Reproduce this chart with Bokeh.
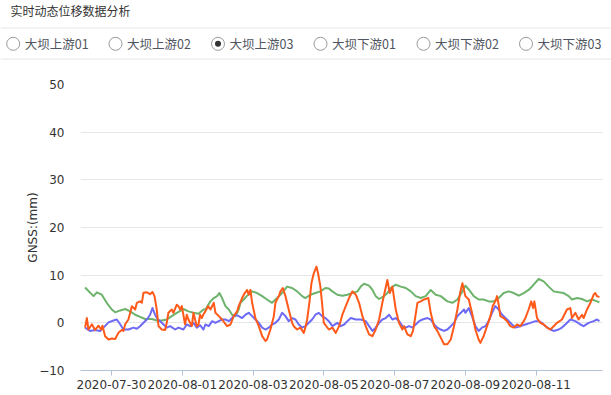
import pandas as pd
from bokeh.plotting import figure
from bokeh.models import Range1d, FixedTicker, DatetimeTickFormatter, ColumnDataSource
from bokeh.core.properties import value
from bokeh.embed import file_html
from bokeh.resources import INLINE

# ---------------- data ----------------
TITLE = "实时动态位移数据分析"
RADIO_LABELS = ["大坝上游01", "大坝上游02", "大坝上游03", "大坝下游01", "大坝下游02", "大坝下游03"]
SELECTED = 2
Y_LABEL = "GNSS:(mm)"
Y_TICKS = [-10, 0, 10, 20, 30, 40, 50]
X_TICK_LABELS = ["2020-07-30", "2020-08-01", "2020-08-03", "2020-08-05",
                 "2020-08-07", "2020-08-09", "2020-08-11"]
BASE_TIME = "2020-07-30 00:00"

# hours after BASE_TIME and displacement (mm)
GREEN_H = [-17.9, -12.2, -9.9, -6.6, -3.2, 0.2, 2.5, 5.9, 9.3, 12.7, 16.1, 19.4, 22.8, 27.4, 30.7, 34.1, 37.5, 40.9, 44.3, 48.8, 52.2, 55.6, 59.0, 62.4,
           63.7, 67.1, 69.4, 71.6, 73.2, 75.0, 77.3, 79.6, 81.8, 84.1, 86.3, 87.5, 89.7, 92.0, 95.4, 98.8, 102.2, 105.5, 108.9, 112.3, 115.7, 119.1, 122.5, 125.9, 129.3, 131.5, 134.9, 138.3, 141.7, 145.1, 147.4,
           149.8, 153.2, 156.6, 160.0, 163.4, 166.8, 169.1, 171.3, 174.7, 177.0, 179.2, 181.5, 184.9, 187.1, 189.4, 192.8, 196.2, 199.6, 203.0, 206.3, 209.7, 213.1, 216.5, 219.9, 223.3, 227.8, 231.2, 234.6, 238.0,
           240.0, 242.3, 245.7, 249.0, 252.4, 255.8, 259.2, 262.6, 266.0, 269.4, 272.8, 276.2, 279.6, 282.9, 286.3, 289.7, 293.1, 296.5, 299.9, 303.3, 306.7, 310.1, 312.3, 315.7, 319.1, 322.5, 325.9, 329.3, 330.9]
GREEN_V = [7.4, 5.6, 6.4, 5.9, 4.2, 2.8, 2.2, 2.6, 2.9, 2.4, 1.7, 1.25, 0.8, 0.8, 0.5, 0.5, 0.7, 1.4, 2.1, 2.9, 2.4, 2.1, 1.9, 2.8,
           2.8, 4.5, 5.2, 5.6, 6.25, 5.2, 3.5, 2.8, 1.7, 1.4, 2.8, 4.2, 4.9, 5.7, 6.6, 6.25, 5.6, 4.9, 4.2, 5.2, 6.25, 7.6, 7.3, 6.6, 5.6, 5.2, 5.9, 6.25, 6.6, 7.3, 7.2,
           6.6, 5.9, 5.7, 5.9, 6.25, 6.6, 7.6, 8.2, 7.8, 6.9, 5.6, 5.0, 5.6, 6.25, 7.3, 8.0, 7.6, 7.3, 6.6, 5.6, 5.2, 5.6, 6.9, 5.9, 5.6, 4.5, 4.2, 4.9, 6.6,
           7.8, 7.0, 5.6, 4.9, 4.9, 4.5, 4.5, 5.2, 6.25, 6.6, 6.25, 5.7, 6.25, 6.9, 8.0, 9.2, 8.7, 7.6, 6.6, 6.4, 6.25, 5.6, 4.9, 5.2, 5.0, 4.5, 4.9, 4.5, 4.3]

BLUE_H = [-17.9, -14.5, -11.1, -7.7, -5.4, -2.0, 1.4, 3.6, 5.9, 8.1, 11.5, 14.9, 17.2, 19.4, 21.7, 24.0, 26.2, 27.8, 29.6, 31.4, 33.0, 35.3, 37.5, 39.8, 43.2, 45.4, 48.8, 51.1, 53.3, 55.6, 57.9, 60.1, 62.4,
          63.7, 66.0, 68.3, 70.5, 72.8, 75.0, 77.3, 79.6, 81.8, 84.1, 86.3, 88.6, 90.9, 93.1, 95.4, 97.6, 99.9, 102.2, 104.4, 106.7, 108.9, 111.2, 113.5, 115.7, 118.0, 120.2, 122.5, 124.8, 127.0, 129.3, 131.5, 133.8, 136.1, 138.3, 140.6, 142.8, 145.1, 147.4,
          149.8, 153.2, 155.5, 157.8, 160.0, 162.3, 165.7, 169.1, 172.4, 174.7, 177.0, 179.2, 181.5, 183.7, 186.0, 188.3, 190.5, 192.8, 195.0, 197.3, 199.6, 201.8, 204.1, 206.3, 208.6, 210.9, 214.3, 216.5, 218.8, 221.0, 223.3, 225.5, 227.8, 230.1, 232.3, 234.6, 236.9, 239.1,
          240.0, 242.3, 244.5, 246.8, 249.0, 251.3, 253.6, 255.8, 258.1, 260.3, 262.6, 264.9, 268.3, 271.6, 273.9, 277.3, 280.7, 284.1, 287.5, 289.7, 292.0, 294.2, 297.6, 299.9, 303.3, 305.5, 307.8, 311.2, 314.6, 318.0, 320.2, 323.6, 327.0, 329.3, 330.9]
BLUE_V = [-1.0, -1.7, -1.5, -1.7, -1.0, 0.1, 0.5, 0.7, -0.3, -1.4, -1.4, -1.0, -1.25, -0.7, 0.0, 0.7, 1.7, 3.1, 1.7, 0.7, 0.35, -0.35, -1.0, -0.7, -1.4, -1.0, -1.4, -0.35, -0.7, 0.0, -1.0, -0.5, -1.4,
          -0.35, -0.7, 0.35, 0.0, 0.35, 0.7, 0.7, 0.35, 1.0, 1.7, 1.4, 1.0, 1.7, 2.1, 1.4, 0.7, 0.0, -1.0, -1.4, -1.0, -0.35, 0.0, 0.7, 2.1, 1.4, 0.35, 1.0, 0.7, -0.35, -1.0, -0.7, 0.0, 0.7, 1.7, 2.1, 1.4, 1.0, 0.35,
          -0.7, 0.0, -0.7, -0.35, 0.35, 1.0, 0.7, 0.7, 0.35, -0.7, -1.7, -1.0, 0.0, 0.7, 1.0, 1.7, 0.7, 1.0, 0.35, -0.7, -1.0, -0.7, -1.0, -0.35, 0.35, 0.7, 1.0, 0.7, -0.35, -1.0, -1.4, -1.7, -1.4, -0.7, 0.0, 1.4, 2.1, 2.8,
          2.1, 3.1, 1.4, -0.7, -1.7, -1.0, -0.7, 0.35, 2.1, 3.5, 2.8, 1.7, 0.7, -0.35, -1.0, -0.7, -0.35, 0.0, 0.35, 0.35, 0.0, -0.7, -1.4, -1.7, -1.4, -1.0, -0.35, 0.7, 0.35, -0.35, -0.7, 0.0, 0.35, 0.7, 0.35]

ORANGE_H = [-17.9, -16.7, -15.6, -13.3, -11.1, -8.8, -7.0, -6.1, -4.3, -2.0, 0.2, 2.5, 4.7, 7.0, 8.1, 9.3, 11.5, 12.7, 13.8, 16.1, 17.2, 19.4, 20.6, 21.7, 24.0, 26.2, 27.8, 29.2, 30.7, 31.9, 34.1, 36.4, 37.5, 38.6, 40.9, 42.0, 44.3, 45.4, 46.6, 47.7, 49.9, 51.1, 52.2, 54.5, 55.6, 56.7, 57.9, 59.0, 60.1, 61.2, 62.4,
            63.7, 65.5, 67.1, 69.4, 70.5, 72.8, 75.0, 78.4, 80.7, 82.9, 85.2, 86.3, 88.6, 90.4, 92.0, 93.1, 94.2, 95.4, 97.6, 99.9, 102.2, 104.4, 105.5, 107.8, 110.1, 111.2, 113.5, 114.6, 116.2, 118.0, 120.2, 122.5, 123.6, 125.9, 128.1, 130.4, 131.5, 132.7, 134.2, 135.6, 137.2, 139.0, 140.1, 141.7, 142.8, 144.0, 147.4,
            149.8, 152.1, 154.4, 156.6, 158.9, 161.1, 163.4, 165.7, 167.9, 170.2, 172.4, 174.7, 177.0, 179.2, 181.5, 183.7, 185.6, 187.1, 188.7, 190.5, 192.8, 195.0, 197.3, 198.4, 200.7, 203.0, 204.5, 205.9, 207.5, 209.7, 212.0, 214.9, 216.5, 218.8, 221.0, 223.3, 225.5, 227.8, 230.1, 232.3, 234.6, 236.4, 238.0,
            240.0, 242.3, 244.5, 246.8, 249.0, 250.2, 252.4, 254.7, 257.0, 258.5, 260.3, 261.5, 262.6, 263.7, 266.0, 268.3, 270.5, 272.8, 275.0, 277.3, 279.6, 280.7, 282.9, 284.7, 285.9, 286.8, 288.6, 290.9, 293.1, 295.4, 297.6, 299.9, 302.2, 305.5, 308.9, 311.2, 312.3, 314.6, 316.8, 319.1, 320.2, 322.5, 324.8, 327.0, 328.1, 329.3, 330.9]
ORANGE_V = [-1.0, 1.0, -1.4, -0.3, -1.5, -0.6, -1.4, -0.6, -2.8, -3.5, -3.3, -3.4, -2.1, -1.5, -1.7, -0.3, 0.7, 2.1, 3.5, 2.8, 4.2, 4.5, 4.2, 6.3, 6.4, 6.0, 6.5, 5.6, 2.8, -0.7, -1.4, -1.5, 0.0, 2.1, 2.8, 2.1, 3.8, 3.5, 2.8, 3.5, -0.3, 1.7, 0.7, -0.7, 2.1, 0.7, -0.7, -0.35, 1.7, 1.0, 1.8,
            2.4, 3.5, 2.8, 4.2, 2.1, 1.4, 0.7, -0.7, -0.35, 1.4, 2.4, 3.5, 5.2, 6.25, 6.9, 5.9, 6.9, 4.2, 1.0, -0.7, -2.8, -3.8, -3.5, -1.4, 1.4, 4.2, 5.6, 6.6, 7.3, 5.6, 2.8, 0.0, -0.7, -1.4, -1.0, -2.1, -1.0, 0.7, 4.2, 8.3, 10.4, 11.8, 10.4, 7.6, 4.2, 0.0, -1.4,
            -1.0, -2.1, -0.7, 1.7, 3.5, 5.2, 6.6, 5.9, 4.2, 1.4, -0.7, -2.4, -2.8, -1.4, 0.7, 4.2, 6.9, 9.0, 6.25, 7.6, 2.8, 0.0, -1.4, -0.7, -2.4, -2.8, -1.7, 1.0, 4.2, 4.5, 4.9, 5.2, 2.1, -0.7, -1.7, -3.1, -4.5, -4.5, -3.5, -0.7, 2.8, 6.25, 8.3,
            5.6, 4.9, 2.1, -1.4, -3.5, -4.2, -2.8, -0.7, 1.4, 3.5, 4.5, 5.6, 3.8, 1.4, 1.0, 0.35, -0.7, -1.0, -0.35, -0.7, 0.35, 1.0, 2.8, 4.5, 3.1, 4.5, 1.0, 0.0, -0.35, -1.0, -1.4, -0.7, 0.0, 0.7, 2.8, 3.1, 1.0, 2.1, 0.7, 1.7, 1.0, 2.8, 4.2, 5.9, 6.25, 5.6, 5.4]

X_START_H = -21.0
X_END_H = 333.0

# ---------------- helpers ----------------
base = pd.Timestamp(BASE_TIME)


def to_time(hours):
    return base + pd.to_timedelta(pd.Series(hours, dtype=float), unit="h")


CJK = "Noto Sans CJK SC"
LAT = "DejaVu Sans"
W = 611

# ---------------- header (title + radio row), its own root ----------------
HDR_H = 60
hdr = figure(width=W, height=HDR_H, x_range=Range1d(0, W), y_range=Range1d(HDR_H, 0),
             x_axis_type=None, y_axis_type=None, toolbar_location=None,
             output_backend="svg", min_border=0, min_border_left=0, min_border_right=0,
             min_border_top=0, min_border_bottom=0)
hdr.grid.visible = False
hdr.outline_line_color = None

hdr.text(x=[10], y=[10], text=[TITLE], text_font=value(CJK), text_font_size="12px",
         text_color="#333333", text_baseline="middle", text_align="left")
hdr.segment(x0=[0, 0], y0=[27.5, 58.5], x1=[W, W], y1=[27.5, 58.5],
            line_color="#e6e6e6", line_width=1)

radio_x = [12.7, 115.0, 217.5, 320.0, 423.0, 525.5]
radio_y = [43.3] * len(RADIO_LABELS)
hdr.scatter(x=radio_x, y=radio_y, marker="circle", size=13, fill_color="white",
            line_color="#9a9a9a", line_width=1)
hdr.scatter(x=[radio_x[SELECTED]], y=[radio_y[SELECTED]], marker="circle", size=6,
            fill_color="#333333", line_color=None)
hdr.text(x=[rx + 11.5 for rx in radio_x], y=radio_y, text=RADIO_LABELS,
         text_font=value(CJK), text_font_size="12.5px", text_color="#4f5560",
         text_baseline="middle", text_align="left")

# ---------------- main chart, a second root ----------------
PLOT_H = 395 - HDR_H
p = figure(width=W, height=PLOT_H, x_axis_type="datetime",
           x_range=Range1d(base + pd.Timedelta(hours=X_START_H), base + pd.Timedelta(hours=X_END_H)),
           y_range=Range1d(-10, 50), toolbar_location=None, output_backend="svg",
           min_border_left=80, min_border_right=9, min_border_top=24, min_border_bottom=25)
p.outline_line_color = None
p.xgrid.visible = False
p.ygrid.grid_line_color = "#e6e6e6"
p.ygrid.grid_line_width = 1

xt = [pd.Timestamp(s) for s in X_TICK_LABELS]
p.xaxis.ticker = FixedTicker(ticks=[t.value / 1e6 for t in xt])
p.xaxis.formatter = DatetimeTickFormatter(days="%Y-%m-%d", months="%Y-%m-%d", hours="%Y-%m-%d",
                                          context=None)
p.xaxis.axis_line_color = "#b3c1da"
p.xaxis.major_tick_line_color = "#b3c1da"
p.xaxis.major_tick_out = 5
p.xaxis.major_tick_in = 0
p.xaxis.minor_tick_line_color = None
p.xaxis.major_label_standoff = 4
p.xaxis.major_label_text_font = LAT
p.xaxis.major_label_text_font_size = "12px"
p.xaxis.major_label_text_color = "#333333"

p.yaxis.ticker = FixedTicker(ticks=Y_TICKS)
p.yaxis.axis_line_color = None
p.yaxis.major_tick_line_color = None
p.yaxis.minor_tick_line_color = None
p.yaxis.major_tick_out = 0
p.yaxis.major_tick_in = 0
p.yaxis.major_label_standoff = 16
p.yaxis.major_label_text_font = LAT
p.yaxis.major_label_text_font_size = "12px"
p.yaxis.major_label_text_color = "#333333"
p.yaxis.axis_label = Y_LABEL
p.yaxis.axis_label_text_font = LAT
p.yaxis.axis_label_text_font_size = "12px"
p.yaxis.axis_label_text_font_style = "normal"
p.yaxis.axis_label_text_color = "#333333"
p.yaxis.axis_label_standoff = -4

series = [
    (GREEN_H, GREEN_V, "#6db36b"),
    (BLUE_H, BLUE_V, "#6d6af5"),
    (ORANGE_H, ORANGE_V, "#ff5a1a"),
]
for hrs, vals, col in series:
    src = ColumnDataSource(dict(t=to_time(hrs), v=vals))
    p.line("t", "v", source=src, line_color=col, line_width=2, line_join="round")

open("out.html", "w").write(file_html([hdr, p], INLINE))
